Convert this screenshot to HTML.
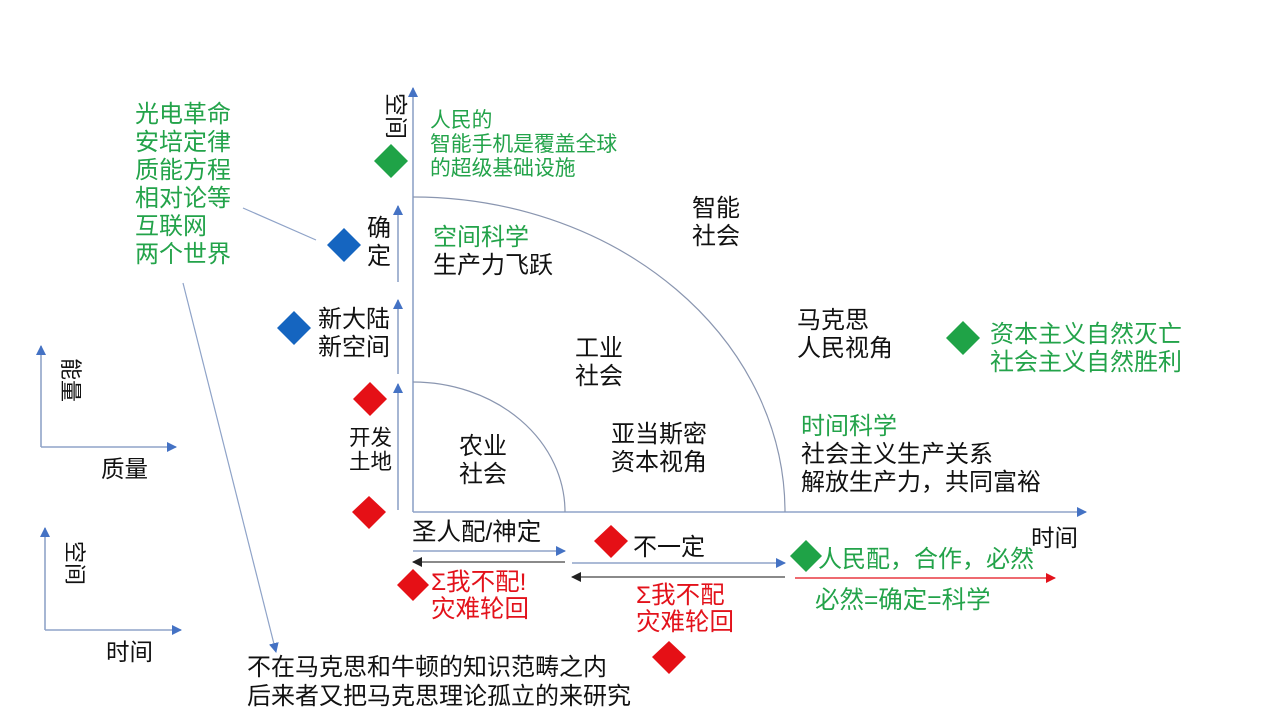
<!DOCTYPE html>
<html><head><meta charset="utf-8"><style>
html,body{margin:0;padding:0;background:#fff}
svg{display:block}
text{font-family:"Liberation Sans","Noto Sans CJK SC",sans-serif;font-size:24px;fill:#111}
.g{fill:#23a34a}.r{fill:#e3121b}
</style></head><body>
<svg width="1280" height="720" viewBox="0 0 1280 720" xmlns="http://www.w3.org/2000/svg">
<defs>
<marker id="ab" markerWidth="10" markerHeight="10" refX="9" refY="5" orient="auto" markerUnits="userSpaceOnUse"><path d="M0,0 L10,5 L0,10z" fill="#4472c4"/></marker>
<marker id="ak" markerWidth="10" markerHeight="10" refX="9" refY="5" orient="auto" markerUnits="userSpaceOnUse"><path d="M0,0 L10,5 L0,10z" fill="#222"/></marker>
<marker id="ar" markerWidth="10" markerHeight="10" refX="9" refY="5" orient="auto" markerUnits="userSpaceOnUse"><path d="M0,0 L10,5 L0,10z" fill="#e3121b"/></marker>
</defs>
<g stroke="#8fa3c8" stroke-width="1.6" fill="none">
<line x1="413" y1="512" x2="413" y2="88" marker-end="url(#ab)"/>
<line x1="413" y1="512" x2="1086" y2="512" marker-end="url(#ab)"/>
<line x1="398" y1="510" x2="398" y2="384" marker-end="url(#ab)"/>
<line x1="398" y1="374" x2="398" y2="300" marker-end="url(#ab)"/>
<line x1="398" y1="282" x2="398" y2="206" marker-end="url(#ab)"/>
<path d="M413,382 A152,130 0 0 1 565,512" stroke="#8a96b0" stroke-width="1.2"/>
<path d="M413,197 A372,315 0 0 1 785,512" stroke="#8a96b0" stroke-width="1.2"/>
<line x1="243" y1="208" x2="316" y2="240" stroke-width="1.2"/>
<line x1="183" y1="283" x2="276" y2="652" stroke-width="1.2" marker-end="url(#ab)"/>
<line x1="41" y1="447" x2="41" y2="346" marker-end="url(#ab)"/>
<line x1="41" y1="447" x2="176" y2="447" marker-end="url(#ab)"/>
<line x1="45" y1="630" x2="45" y2="528" marker-end="url(#ab)"/>
<line x1="45" y1="630" x2="181" y2="630" marker-end="url(#ab)"/>
<line x1="413" y1="551" x2="565" y2="551" marker-end="url(#ab)"/>
<line x1="572" y1="563" x2="785" y2="563" marker-end="url(#ab)"/>
</g>
<line x1="565" y1="562" x2="413" y2="562" stroke="#444" stroke-width="1.2" marker-end="url(#ak)"/>
<line x1="785" y1="577" x2="572" y2="577" stroke="#444" stroke-width="1.2" marker-end="url(#ak)"/>
<line x1="795" y1="578" x2="1055" y2="578" stroke="#e3121b" stroke-width="1.2" marker-end="url(#ar)"/>
<g>
<path d="M391,144 l17,17 l-17,17 l-17,-17z" fill="#1fa347"/>
<path d="M344,228 l17,17 l-17,17 l-17,-17z" fill="#1565c0"/>
<path d="M294,311 l17,17 l-17,17 l-17,-17z" fill="#1565c0"/>
<path d="M370,382 l17,17 l-17,17 l-17,-17z" fill="#e51016"/>
<path d="M369,496 l17,16 l-17,17 l-17,-17z" fill="#e51016"/>
<path d="M611,525 l17,16 l-17,17 l-17,-17z" fill="#e51016"/>
<path d="M413,569 l16,16 l-16,16 l-16,-16z" fill="#e51016"/>
<path d="M669,641 l17,16 l-17,17 l-17,-17z" fill="#e51016"/>
<path d="M806,540 l16,16 l-16,16 l-16,-16z" fill="#1fa347"/>
<path d="M963,321 l17,17 l-17,17 l-17,-17z" fill="#1fa347"/>
</g>
<text transform="translate(388,93) rotate(90)" style="font-size:23px">空间</text>
<text transform="translate(63,358) rotate(90)" style="font-size:22px">能量</text>
<text transform="translate(67,541) rotate(90)" style="font-size:22px">空间</text>
<text x="135" y="122" class="g">光电革命</text>
<text x="135" y="150" class="g">安培定律</text>
<text x="135" y="178" class="g">质能方程</text>
<text x="135" y="206" class="g">相对论等</text>
<text x="135" y="234" class="g">互联网</text>
<text x="135" y="262" class="g">两个世界</text>
<text x="101" y="477" style="font-size:23.5px">质量</text>
<text x="106" y="660" style="font-size:23.5px">时间</text>
<text x="430" y="127" class="g" style="font-size:20.8px">人民的</text>
<text x="430" y="151" class="g" style="font-size:20.8px">智能手机是覆盖全球</text>
<text x="430" y="175" class="g" style="font-size:20.8px">的超级基础设施</text>
<text x="367" y="236">确</text>
<text x="367" y="264">定</text>
<text x="318" y="327">新大陆</text>
<text x="318" y="355">新空间</text>
<text x="349" y="445" style="font-size:21.5px">开发</text>
<text x="349" y="469" style="font-size:21.5px">土地</text>
<text x="433" y="245" class="g">空间科学</text>
<text x="433" y="273">生产力飞跃</text>
<text x="692" y="216">智能</text>
<text x="692" y="244">社会</text>
<text x="575" y="356">工业</text>
<text x="575" y="384">社会</text>
<text x="459" y="454">农业</text>
<text x="459" y="482">社会</text>
<text x="611" y="442">亚当斯密</text>
<text x="611" y="470">资本视角</text>
<text x="797" y="328">马克思</text>
<text x="797" y="356">人民视角</text>
<text x="990" y="342" class="g">资本主义自然灭亡</text>
<text x="990" y="370" class="g">社会主义自然胜利</text>
<text x="801" y="434" class="g">时间科学</text>
<text x="801" y="462">社会主义生产关系</text>
<text x="801" y="490">解放生产力，共同富裕</text>
<text x="1031" y="546" style="font-size:23.5px">时间</text>
<text x="412" y="540" style="font-size:24.5px">圣人配/神定</text>
<text x="633" y="555" style="font-size:24px">不一定</text>
<text x="818" y="567" class="g" style="font-size:24px">人民配，合作，必然</text>
<text x="815" y="608" class="g" style="font-size:24.5px">必然=确定=科学</text>
<text x="431" y="590" class="r" style="font-size:24.5px">Σ我不配!</text>
<text x="431" y="617" class="r" style="font-size:24.5px">灾难轮回</text>
<text x="636" y="603" class="r" style="font-size:24.5px">Σ我不配</text>
<text x="636" y="630" class="r" style="font-size:24.5px">灾难轮回</text>
<text x="247" y="675">不在马克思和牛顿的知识范畴之内</text>
<text x="247" y="704">后来者又把马克思理论孤立的来研究</text>
</svg>
</body></html>
